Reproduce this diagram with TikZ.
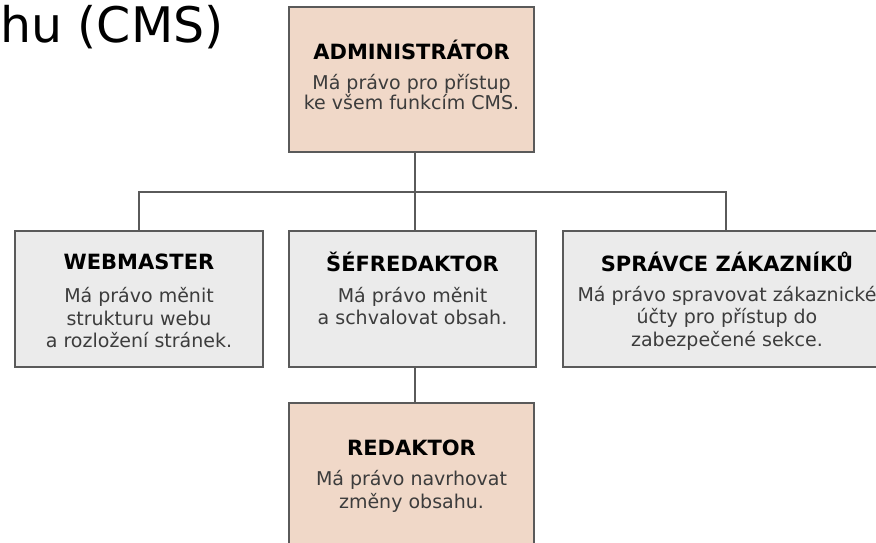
\documentclass[tikz,border=0pt]{standalone}
\usepackage{fontspec}
\setmainfont{DejaVu Sans}
\definecolor{peach}{HTML}{F0D8C8}
\definecolor{lgray}{HTML}{EBEBEB}
\definecolor{edge}{HTML}{5A5A5A}
\definecolor{body}{HTML}{3C3C3C}
\begin{document}
\begin{tikzpicture}[x=1pt,y=-1pt,
  box/.style={draw=edge,line width=1.8pt,inner sep=0pt,outer sep=0pt,anchor=north west},
  ttl/.style={font=\bfseries\fontsize{21}{24}\selectfont,text=black,inner sep=0pt},
  txt/.style={font=\fontsize{19}{22.5}\selectfont,text=body,align=center,inner sep=0pt},
  conn/.style={draw=edge,line width=1.8pt}]
\useasboundingbox (0,0) rectangle (876,543);
\clip (0,0) rectangle (876,543);
% title fragment
\node[anchor=base west,inner sep=0pt,font=\fontsize{49}{56}\selectfont] (head) at (0,43) {hu (CMS)};
% boxes
\node[box,fill=peach,minimum width=245pt,minimum height=145pt] (admin) at (289,7) {};
\node[box,fill=lgray,minimum width=248pt,minimum height=136pt] (web) at (15,231) {};
\node[box,fill=lgray,minimum width=247pt,minimum height=136pt] (sef) at (289,231) {};
\node[box,fill=lgray,minimum width=326pt,minimum height=136pt] (spr) at (563,231) {};
\node[box,fill=peach,minimum width=245pt,minimum height=170pt] (red) at (289,403) {};
% connectors
\coordinate (hub) at (415,192);
\draw[conn] (admin.south -| hub) -- (hub);
\draw[conn] (web.north) |- (hub) -| (spr.north);
\draw[conn] (hub) -- (sef.north -| hub);
\draw[conn] (sef.south -| hub) -- (red.north -| hub);
% texts
\node[ttl] (admint) at (411.5,50) {ADMINISTRÁTOR};
\node[txt,font=\fontsize{19}{19.5}\selectfont] (adminb) at (411.5,92) {Má právo pro přístup\\ke všem funkcím CMS.};
\node[ttl] (webt) at (139,262) {WEBMASTER};
\node[txt] (webb) at (139,318) {Má právo měnit\\strukturu webu\\a rozložení stránek.};
\node[ttl] (seft) at (412.5,262) {ŠÉFREDAKTOR};
\node[txt] (sefb) at (412.5,306) {Má právo měnit\\a schvalovat obsah.};
\node[ttl] (sprt) at (727,262) {SPRÁVCE ZÁKAZNÍKŮ};
\node[txt] (sprb) at (727,318) {Má právo spravovat zákaznické\\účty pro přístup do\\zabezpečené sekce.};
\node[ttl] (redt) at (411.5,448) {REDAKTOR};
\node[txt] (redb) at (411.5,491.5) {Má právo navrhovat\\změny obsahu.};
\end{tikzpicture}
\end{document}
